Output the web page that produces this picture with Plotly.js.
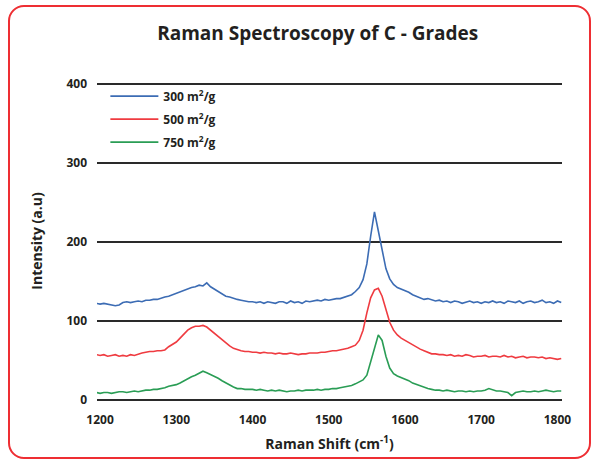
<!DOCTYPE html>
<html>
<head>
<meta charset="utf-8">
<script src="https://cdn.plot.ly/plotly-3.0.1.min.js"></script>
<style>
  html, body { margin: 0; padding: 0; background: #fff; }
  #wrap { position: relative; width: 595px; height: 461px; }
  #chart { width: 595px; height: 461px; }
  #frame { position: absolute; left: 8px; top: 5px; width: 579px; height: 450px;
           border: 2.5px solid #ee2e33; border-radius: 16px; pointer-events: none; }
</style>
</head>
<body>
<div id="wrap"><div id="chart"></div><div id="frame"></div></div>
<script>
// Raman shift (cm^-1)
const ramanShift = [
  1195,1200,1205,1210,1215,1220,1225,1230,1235,1240,
  1245,1250,1255,1260,1265,1270,1275,1280,1285,1290,
  1295,1300,1305,1310,1315,1320,1325,1330,1335,1340,
  1345,1350,1355,1360,1365,1370,1375,1380,1385,1390,
  1395,1400,1405,1410,1415,1420,1425,1430,1435,1440,
  1445,1450,1455,1460,1465,1470,1475,1480,1485,1490,
  1495,1500,1505,1510,1515,1520,1525,1530,1535,1540,
  1545,1550,1555,1560,1565,1570,1575,1580,1585,1590,
  1595,1600,1605,1610,1615,1620,1625,1630,1635,1640,
  1645,1650,1655,1660,1665,1670,1675,1680,1685,1690,
  1695,1700,1705,1710,1715,1720,1725,1730,1735,1740,
  1745,1750,1755,1760,1765,1770,1775,1780,1785,1790,
  1795,1800,1805
];
// 300 m2/g
const intensity300 = [
  122,121,122,121,120,119,120,123,124,123,
  124,125,124,126,126,127,127,129,130,131,
  133,134,136,139,140,142,143,145,144,148,
  143,140,137,134,131,130,128,127,126,125,
  124,124,123,124,122,124,123,122,124,124,
  122,125,123,124,122,125,124,125,126,125,
  127,126,127,128,128,130,131,133,137,142,
  152,172,207,238,214,188,166,153,146,142,
  140,139,136,133,131,129,127,128,126,125,
  126,124,125,123,125,124,122,124,125,123,
  124,122,124,123,125,123,124,122,125,124,
  123,125,122,124,125,123,124,126,123,124,
  122,125,123
];
// 500 m2/g
const intensity500 = [
  57,56,57,55,56,57,55,56,55,57,
  56,58,59,60,61,61,62,62,63,67,
  70,73,78,83,88,91,93,93,94,92,
  88,84,80,75,72,68,65,63,62,61,
  61,60,60,59,60,59,59,58,59,58,
  58,59,58,57,58,58,59,59,59,60,
  60,61,62,62,63,64,65,67,69,75,
  88,110,129,139,141,131,113,98,88,82,
  78,75,72,70,67,64,62,60,58,58,
  57,57,56,57,55,56,55,57,56,54,
  55,55,56,54,55,55,54,56,54,55,
  53,54,55,53,54,54,53,54,52,53,
  52,51,52
];
// 750 m2/g
const intensity750 = [
  9,8,9,9,8,9,10,10,9,10,
  11,10,11,12,12,13,13,14,15,17,
  18,19,21,24,26,29,31,33,36,34,
  32,30,27,24,21,18,16,14,14,13,
  13,13,12,13,12,11,12,11,12,11,
  10,11,11,12,11,12,12,12,13,12,
  13,13,14,14,15,16,17,18,20,22,
  25,31,48,67,82,75,55,40,33,30,
  28,26,24,21,19,17,15,14,13,12,
  12,11,12,11,10,11,11,10,11,10,
  11,11,12,14,12,11,11,10,9,5,
  9,10,11,10,10,11,10,11,12,11,
  10,11,11
];
const seriesNames = ['300 m<sup>2</sup>/g', '500 m<sup>2</sup>/g', '750 m<sup>2</sup>/g'];
const seriesColors = ['#3c6cb4', '#ef3b40', '#2a9d55'];
const xTicks = [1200,1300,1400,1500,1600,1700,1800];
const yTicks = [0,100,200,300,400];

const values = [intensity300, intensity500, intensity750];
const FONT = '"Open Sans", Lato, sans-serif';
const INK = '#231f20';
const traces = values.map((v, i) => ({
  x: ramanShift, y: v, type: 'scatter', mode: 'lines',
  name: '<b>' + seriesNames[i] + '</b>', legendgroup: 'g' + i,
  line: { color: seriesColors[i], width: 1.6 }
}));

const layout = {
  width: 595, height: 461,
  margin: { l: 97, r: 33, t: 80, b: 59 },
  paper_bgcolor: '#ffffff', plot_bgcolor: '#ffffff',
  font: { family: FONT, color: INK, size: 12 },
  title: { text: '<b>Raman Spectroscopy of C - Grades</b>', font: { family: FONT, size: 19, color: INK },
           x: 0.534, xanchor: 'center', y: 0.928, yanchor: 'middle' },
  xaxis: {
    range: [1196, 1806], tickvals: xTicks, ticktext: xTicks.map(t => '<b>' + t + '</b>'),
    showgrid: false, zeroline: false, showline: false, ticks: '',
    ticklabelstandoff: 9,
    tickfont: { family: FONT, size: 12, color: INK },
    title: { text: '<b>Raman Shift (cm<sup>-1</sup>)</b>', font: { family: FONT, size: 14, color: INK }, standoff: 12 }
  },
  yaxis: {
    range: [-3, 405], tickvals: yTicks, ticktext: yTicks.map(t => '<b>' + t + '</b>'),
    showgrid: true, gridcolor: '#2a2a2a', gridwidth: 1.8, zeroline: false, showline: false, ticks: '',
    ticklabelstandoff: 9,
    tickfont: { family: FONT, size: 12, color: INK },
    title: { text: '<b>Intensity (a.u)</b>', font: { family: FONT, size: 14, color: INK }, standoff: 20 }
  },
  legend: {
    x: 0.018, y: 0.995, xanchor: 'left', yanchor: 'top',
    bgcolor: 'rgba(255,255,255,0)', borderwidth: 0,
    itemwidth: 48, tracegroupgap: 4,
    font: { family: FONT, size: 12, color: INK }
  },
  showlegend: true
};

Plotly.newPlot('chart', traces, layout, { displayModeBar: false, staticPlot: true });
</script>
</body>
</html>
